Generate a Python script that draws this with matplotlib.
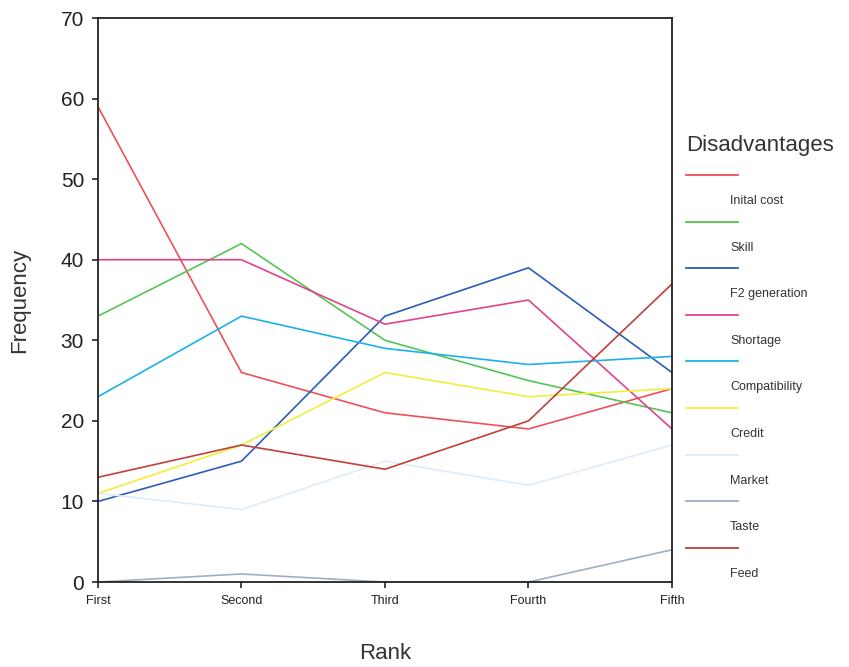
import matplotlib
matplotlib.use("Agg")
import matplotlib.pyplot as plt
from matplotlib.lines import Line2D

plt.rcParams['font.family'] = ['Liberation Sans', 'DejaVu Sans']

ranks = ['First', 'Second', 'Third', 'Fourth', 'Fifth']
names = ['Inital cost', 'Skill', 'F2 generation', 'Shortage', 'Compatibility',
         'Credit', 'Market', 'Taste', 'Feed']
inital_cost = [59, 26, 21, 19, 24]
skill = [33, 42, 30, 25, 21]
f2_generation = [10, 15, 33, 39, 26]
shortage = [40, 40, 32, 35, 19]
compatibility = [23, 33, 29, 27, 28]
credit = [11, 17, 26, 23, 24]
market = [11, 9, 15, 12, 17]
taste = [0, 1, 0, 0, 4]
feed = [13, 17, 14, 20, 37]
series = [inital_cost, skill, f2_generation, shortage, compatibility,
          credit, market, taste, feed]
colors = ['#f0505a', '#55c555', '#2a5cb8', '#e0448c', '#1ab2e8',
          '#f2ee3a', '#deecf8', '#a0aec0', '#c0403c']

fig = plt.figure(figsize=(8.49, 6.67), dpi=100)
ax = fig.add_axes([0.1154, 0.1274, 0.6761, 0.8456])

x = list(range(len(ranks)))
for vals, c in zip(series, colors):
    ax.plot(x, vals, color=c, lw=1.2)

ax.set_xlim(0, 4)
ax.set_ylim(0, 70)
ax.set_xticks(x)
ax.set_xticklabels(ranks, fontsize=9, color='#333333')
ax.set_yticks(range(0, 71, 10))
ax.tick_params(axis='y', labelsize=15, length=4, width=1.2, colors='#222222', pad=6)
ax.tick_params(axis='x', length=4, width=1.2, colors='#222222', pad=5)
for s in ax.spines.values():
    s.set_linewidth(1.3)
    s.set_color('#222222')
ax.set_ylabel('Frequency', fontsize=16, color='#333333', labelpad=22)
ax.set_xlabel('Rank', fontsize=16, color='#333333', labelpad=26)

# legend drawn in figure pixels
W, H = 849, 667
fig.text(686 / W, 1 - 145 / H, 'Disadvantages', fontsize=16, color='#333333',
         va='center', ha='left')
for i, (name, c) in enumerate(zip(names, colors)):
    ys = 175 + i * 46.6
    fig.add_artist(Line2D([686 / W, 738 / W], [1 - ys / H, 1 - ys / H],
                          color=c, lw=1.3))
    fig.text(730 / W, 1 - (ys + 26) / H, name, fontsize=9, color='#333333',
             va='center', ha='left')

fig.savefig('out.png', dpi=100)
